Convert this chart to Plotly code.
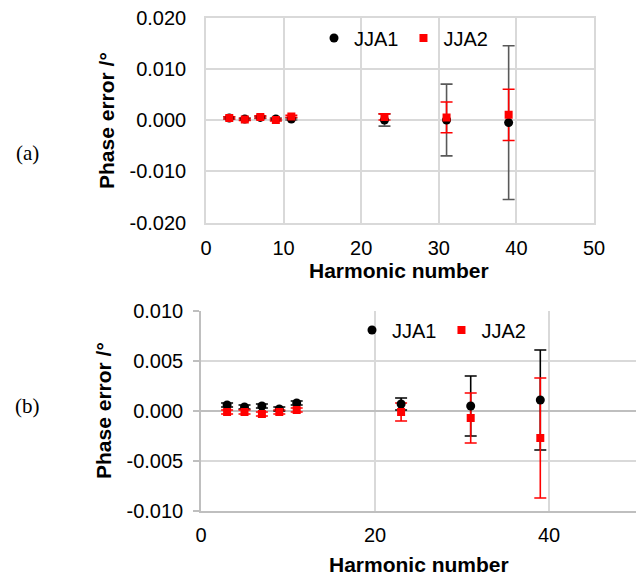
import plotly.graph_objects as go

harmonics = [3, 5, 7, 9, 11, 23, 31, 39]

# Panel (a)
a_jja1 = [0.0004, 0.0002, 0.0005, 0.0002, 0.0002, 0.0000, 0.0000, -0.0005]
a_jja1_err = [0.0002, 0.0002, 0.0002, 0.0002, 0.0002, 0.0012, 0.0070, 0.0150]
a_jja2 = [0.0004, 0.0001, 0.0006, 0.0000, 0.0007, 0.0006, 0.0005, 0.0010]
a_jja2_err = [0.0002, 0.0002, 0.0002, 0.0002, 0.0002, 0.0006, 0.0030, 0.0050]

# Panel (b)
b_jja1 = [0.0006, 0.0004, 0.0005, 0.0002, 0.0008, 0.0007, 0.0005, 0.0011]
b_jja1_err = [0.0002, 0.0002, 0.0002, 0.0002, 0.0002, 0.0006, 0.0030, 0.0050]
b_jja2 = [-0.0001, -0.0001, -0.0003, -0.0001, 0.0001, -0.0001, -0.0007, -0.0027]
b_jja2_err = [0.0002, 0.0002, 0.0002, 0.0002, 0.0002, 0.0009, 0.0025, 0.0060]

# Tick labels
a_yticks = [-0.02, -0.01, 0.0, 0.01, 0.02]
a_yticklabels = ["-0.020", "-0.010", "0.000", "0.010", "0.020"]
a_xticks = [0, 10, 20, 30, 40, 50]
b_yticks = [-0.01, -0.005, 0.0, 0.005, 0.01]
b_yticklabels = ["-0.010", "-0.005", "0.000", "0.005", "0.010"]
b_xticks = [0, 20, 40]

W, H = 636, 575
FONT = "Liberation Sans, Arial, sans-serif"
GRID = "#d9d9d9"
RED = "#ff0000"

fig = go.Figure()


def add_panel(xa, ya, leg, y1, e1, y2, e2, c1err):
    # error bars first (JJA1 then JJA2), then markers (JJA1 then JJA2)
    fig.add_trace(go.Scatter(x=harmonics, y=y1, mode="markers", xaxis=xa, yaxis=ya,
                             marker=dict(size=9, color="rgba(0,0,0,0)"),
                             error_y=dict(type="data", array=e1, color=c1err, thickness=1.6, width=6),
                             showlegend=False, hoverinfo="skip"))
    fig.add_trace(go.Scatter(x=harmonics, y=y2, mode="markers", xaxis=xa, yaxis=ya,
                             marker=dict(size=8, color="rgba(0,0,0,0)"),
                             error_y=dict(type="data", array=e2, color=RED, thickness=1.6, width=6),
                             showlegend=False, hoverinfo="skip"))
    fig.add_trace(go.Scatter(x=harmonics, y=y1, mode="markers", name="JJA1", xaxis=xa, yaxis=ya,
                             marker=dict(symbol="circle", size=9, color="black"), legend=leg))
    fig.add_trace(go.Scatter(x=harmonics, y=y2, mode="markers", name="JJA2", xaxis=xa, yaxis=ya,
                             marker=dict(symbol="square", size=8, color=RED), legend=leg))


add_panel("x", "y", "legend", a_jja1, a_jja1_err, a_jja2, a_jja2_err, "#595959")
add_panel("x2", "y2", "legend2", b_jja1, b_jja1_err, b_jja2, b_jja2_err, "black")


def px_x(p):
    return p / W


def px_y(p):
    return 1 - p / H


tickfont = dict(family=FONT, size=20, color="black")

fig.update_layout(
    width=W, height=H,
    margin=dict(l=0, r=0, t=0, b=0),
    paper_bgcolor="white", plot_bgcolor="white",
    font=dict(family=FONT, size=20, color="black"),
    xaxis=dict(domain=[px_x(206), px_x(594)], range=[0, 50],
               tickmode="array", tickvals=a_xticks, ticktext=[str(v) for v in a_xticks],
               showgrid=True, gridcolor=GRID, gridwidth=1.6,
               showline=True, linecolor=GRID, linewidth=1.6, mirror=True,
               zeroline=False, ticks="", tickfont=tickfont, ticklabelstandoff=7,
               automargin=False, anchor="y"),
    yaxis=dict(domain=[px_y(222.5), px_y(17.5)], range=[-0.02, 0.02],
               tickmode="array", tickvals=a_yticks, ticktext=a_yticklabels,
               showgrid=True, gridcolor=GRID, gridwidth=1.6,
               showline=True, linecolor=GRID, linewidth=1.6, mirror=True,
               zeroline=True, zerolinecolor=GRID, zerolinewidth=1.6,
               ticks="", tickfont=tickfont, ticklabelstandoff=14,
               automargin=False, anchor="x"),
    xaxis2=dict(domain=[px_x(201), 1.0], range=[0, 50],
                tickmode="array", tickvals=b_xticks, ticktext=[str(v) for v in b_xticks],
                showgrid=True, gridcolor=GRID, gridwidth=1.6,
                showline=True, linecolor="#bfbfbf", linewidth=1.6,
                zeroline=False, ticks="", tickfont=tickfont, ticklabelstandoff=5,
                automargin=False, anchor="y2"),
    yaxis2=dict(domain=[px_y(511), px_y(311)], range=[-0.01, 0.01],
                tickmode="array", tickvals=b_yticks, ticktext=b_yticklabels,
                showgrid=True, gridcolor=GRID, gridwidth=1.6,
                showline=True, linecolor="#bfbfbf", linewidth=1.6,
                zeroline=True, zerolinecolor="#bfbfbf", zerolinewidth=1.6,
                ticks="outside", ticklen=6, tickcolor="#bfbfbf", tickwidth=1.6,
                tickfont=tickfont, ticklabelstandoff=6,
                automargin=False, anchor="x2"),
    legend=dict(orientation="h", x=px_x(314), y=px_y(38), xanchor="left", yanchor="middle",
                bgcolor="rgba(0,0,0,0)", font=dict(family=FONT, size=20, color="black"),
                itemwidth=30, tracegroupgap=0),
    legend2=dict(orientation="h", x=px_x(352), y=px_y(330), xanchor="left", yanchor="middle",
                 bgcolor="rgba(0,0,0,0)", font=dict(family=FONT, size=20, color="black"),
                 itemwidth=30, tracegroupgap=0),
)

title_font = dict(family=FONT, size=21, color="black")
annos = [
    dict(text="<b>Phase error /°</b>", x=px_x(107), y=px_y(121), textangle=-90, font=title_font),
    dict(text="<b>Harmonic number</b>", x=px_x(399), y=px_y(270), font=title_font),
    dict(text="<b>Phase error /°</b>", x=px_x(103), y=px_y(411), textangle=-90, font=title_font),
    dict(text="<b>Harmonic number</b>", x=px_x(419), y=px_y(564), font=title_font),
    dict(text="(a)", x=px_x(27), y=px_y(153), font=dict(family="Liberation Serif, Times New Roman, serif", size=21, color="black")),
    dict(text="(b)", x=px_x(28), y=px_y(406), font=dict(family="Liberation Serif, Times New Roman, serif", size=21, color="black")),
]
for a in annos:
    fig.add_annotation(xref="paper", yref="paper", showarrow=False,
                       xanchor="center", yanchor="middle", **a)

fig.write_html("out.html", config={"displayModeBar": False},
               post_script="document.body.style.margin='0px';")
